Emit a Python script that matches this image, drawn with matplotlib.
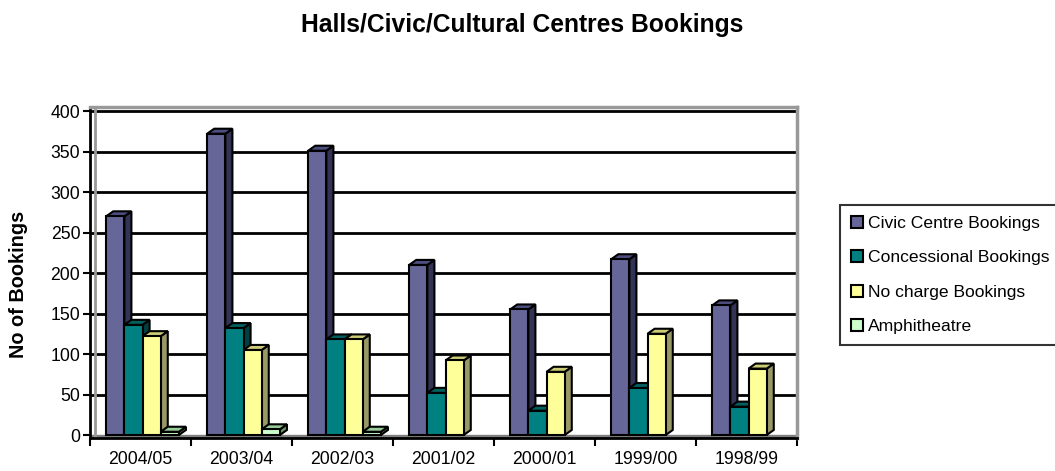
import numpy as np
import matplotlib
matplotlib.use('Agg')
import matplotlib.pyplot as plt
from matplotlib.patches import Polygon

plt.rcParams['font.family'] = ['Liberation Sans', 'DejaVu Sans']

years = ['2004/05', '2003/04', '2002/03', '2001/02', '2000/01', '1999/00', '1998/99']
series = ['Civic Centre Bookings', 'Concessional Bookings', 'No charge Bookings', 'Amphitheatre']
civic = [270, 372, 351, 210, 155, 217, 160]
concessional = [136, 132, 118, 52, 30, 58, 35]
no_charge = [122, 105, 118, 92, 78, 125, 82]
amphitheatre = [4, 7, 4, 0, 0, 0, 0]
values = [civic, concessional, no_charge, amphitheatre]

front = ['#666699', '#008080', '#FFFF99', '#CCFFCC']
side = ['#333355', '#004040', '#999966', '#669966']
top = ['#4d4d80', '#006060', '#cccc77', '#99cc99']

fig = plt.figure(figsize=(10.55, 4.71), dpi=100)
ax = fig.add_axes([90/1055, 33/471, 707/1055, 331/471])

ymin, ymax = -3.7, 405
ax.set_xlim(-0.5, 6.5)
ax.set_ylim(ymin, ymax)

# gridlines on the back wall
for v in range(50, 401, 50):
    ax.axhline(v, color='black', lw=2, zorder=1)
# floor and left wall
ax.axhspan(ymin, 0, color='#808080', zorder=1)
ax.axvline(-0.45, color='#999999', lw=2, zorder=1)

w = 0.18
dx, dy = 0.07, 6.2
x = np.arange(len(years))
z = 3
for i, vals in enumerate(values):
    for j, h in enumerate(vals):
        if h <= 0:
            continue
        x0 = x[j] - 2 * w + i * w + 0.02
        sp = Polygon([(x0 + w, 0), (x0 + w + dx, dy), (x0 + w + dx, h + dy), (x0 + w, h)],
                     closed=True, fc=side[i], ec='black', lw=1.5, zorder=z)
        tp = Polygon([(x0, h), (x0 + dx, h + dy), (x0 + w + dx, h + dy), (x0 + w, h)],
                     closed=True, fc=top[i], ec='black', lw=1.5, zorder=z)
        ax.add_patch(sp)
        ax.add_patch(tp)
        ax.bar(x0, h, width=w, align='edge', color=front[i], edgecolor='black', lw=1.5, zorder=z + 1)
        z += 2

ax.spines['left'].set_color('black')
ax.spines['left'].set_linewidth(2)
ax.spines['bottom'].set_color('black')
ax.spines['bottom'].set_linewidth(2)
ax.spines['bottom'].set_zorder(50)
ax.spines['top'].set_color('#999999')
ax.spines['top'].set_linewidth(2.5)
ax.spines['right'].set_color('#999999')
ax.spines['right'].set_linewidth(2.5)

ax.set_yticks(range(0, 401, 50))
ax.tick_params(axis='y', direction='out', length=5, width=1.5, labelsize=12.7, pad=2)
ax.set_xticks(x)
ax.set_xticklabels(years)
ax.set_xticks(np.arange(-0.5, 7, 1), minor=True)
ax.tick_params(axis='x', which='major', length=0, labelsize=12.7, pad=9)
ax.tick_params(axis='x', which='minor', direction='out', length=6, width=1.5)

ax.set_ylabel('No of Bookings', fontsize=14.3, fontweight='bold')
ax.yaxis.set_label_coords(-0.088, 0.465)
fig.text(522/1055, 1 - 25/471, 'Halls/Civic/Cultural Centres Bookings', fontsize=17.7,
         fontweight='bold', ha='center', va='center')

handles = [plt.Rectangle((0, 0), 1, 1, fc=c, ec='black', lw=1.5) for c in front]
leg = fig.legend(handles, series, loc='upper left', bbox_to_anchor=(840/1055, 1 - 205/471),
                 frameon=True, fancybox=False, edgecolor='black', fontsize=12.6,
                 handlelength=0.7, handleheight=0.7, handletextpad=0.3,
                 labelspacing=1.1, borderpad=0.6, borderaxespad=0)
leg.get_frame().set_linewidth(1.5)

fig.savefig('out.png', dpi=100)
